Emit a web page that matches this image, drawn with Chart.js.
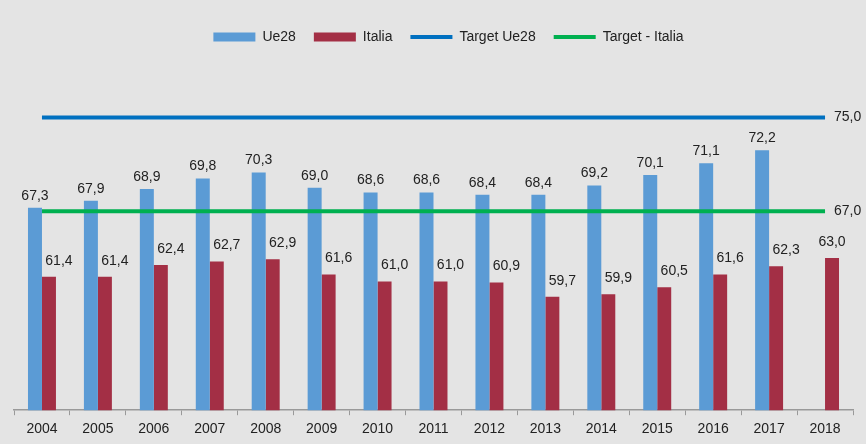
<!DOCTYPE html>
<html>
<head>
<meta charset="utf-8">
<script src="https://cdn.jsdelivr.net/npm/chart.js@4"></script>
<style>
  html, body { margin: 0; padding: 0; background: #e4e4e4; }
  #wrap { width: 866px; height: 444px; }
</style>
</head>
<body>
<div id="wrap"><canvas id="tassoChart"></canvas></div>
<script>
// dati
const anni = ['2004', '2005', '2006', '2007', '2008', '2009', '2010', '2011', '2012', '2013', '2014', '2015', '2016', '2017', '2018'];
const ue28 = [67.3, 67.9, 68.9, 69.8, 70.3, 69.0, 68.6, 68.6, 68.4, 68.4, 69.2, 70.1, 71.1, 72.2, null];
const italia = [61.4, 61.4, 62.4, 62.7, 62.9, 61.6, 61.0, 61.0, 60.9, 59.7, 59.9, 60.5, 61.6, 62.3, 63.0];
const targetUe28 = [75, 75, 75, 75, 75, 75, 75, 75, 75, 75, 75, 75, 75, 75, 75];
const targetItalia = [67, 67, 67, 67, 67, 67, 67, 67, 67, 67, 67, 67, 67, 67, 67];

const fmt = v => v.toFixed(1).replace('.', ',');
const FONT = 'Liberation Sans, Arial, sans-serif';

// etichette dei valori sopra le barre e a destra delle linee
const etichette = {
    id: 'etichette',
    afterDatasetsDraw(chart) {
        const ctx = chart.ctx;
        ctx.save();
        ctx.font = '14px ' + FONT;
        ctx.fillStyle = '#222';
        ctx.textAlign = 'center';
        ctx.textBaseline = 'bottom';
        chart.getDatasetMeta(0).data.forEach((bar, i) => {
            if (ue28[i] == null) return;
            ctx.fillText(fmt(ue28[i]), bar.x, bar.y - 5);
        });
        chart.getDatasetMeta(1).data.forEach((bar, i) => {
            const dx = ue28[i] == null ? 0 : 10;
            ctx.fillText(fmt(italia[i]), bar.x + dx, bar.y - 9);
        });
        ctx.textAlign = 'left';
        ctx.textBaseline = 'middle';
        [2, 3].forEach(d => {
            const pts = chart.getDatasetMeta(d).data;
            const p = pts[pts.length - 1];
            const v = chart.data.datasets[d].data[pts.length - 1];
            ctx.fillText(fmt(v), p.x + 9, p.y);
        });
        ctx.restore();
    }
};

// legenda: un po' più di spazio sotto e spostata a destra come nell'originale
const spazioLegenda = {
    id: 'spazioLegenda',
    beforeLayout(chart) {
        const lg = chart.legend;
        if (lg && !lg._allungata) {
            const fit = lg.fit;
            lg.fit = function() { fit.call(this); this.height += 5; };
            lg._allungata = true;
        }
    },
    afterLayout(chart) {
        const lg = chart.legend;
        if (lg) { lg.left += 15; lg.right += 15; }
    }
};

new Chart(document.getElementById('tassoChart'), {
    type: 'bar',
    data: {
        labels: anni,
        datasets: [
            { label: 'Ue28', data: ue28, backgroundColor: '#5b9bd5', borderWidth: 0, pointStyle: 'rect', order: 1,
              categoryPercentage: 0.5, barPercentage: 1.0 },
            { label: 'Italia', data: italia, backgroundColor: '#a32f45', borderWidth: 0, pointStyle: 'rect', order: 1,
              categoryPercentage: 0.5, barPercentage: 1.0 },
            { type: 'line', label: 'Target Ue28', data: targetUe28, borderColor: '#0070c0', backgroundColor: '#0070c0',
              borderWidth: 4, pointRadius: 0, pointStyle: 'line', order: 0 },
            { type: 'line', label: 'Target - Italia', data: targetItalia, borderColor: '#00b050', backgroundColor: '#00b050',
              borderWidth: 4, pointRadius: 0, pointStyle: 'line', order: 0 }
        ]
    },
    options: {
        responsive: true,
        maintainAspectRatio: false,
        animation: false,
        layout: { padding: { top: 12, left: 14, right: 13, bottom: 0 } },
        plugins: {
            tooltip: { enabled: false },
            legend: {
                position: 'top',
                labels: {
                    usePointStyle: true,
                    pointStyleWidth: 42,
                    boxHeight: 9,
                    padding: 18,
                    color: '#222',
                    font: { family: FONT, size: 14 },
                    sort: (a, b) => a.datasetIndex - b.datasetIndex
                }
            }
        },
        scales: {
            y: { display: false, min: 50, max: 80 },
            x: {
                grid: { display: true, drawOnChartArea: false, tickLength: 5, color: '#999', offset: true },
                border: { color: '#999', width: 1.5 },
                ticks: { color: '#222', padding: 6, font: { family: FONT, size: 14 } }
            }
        }
    },
    plugins: [etichette, spazioLegenda]
});
</script>
</body>
</html>
